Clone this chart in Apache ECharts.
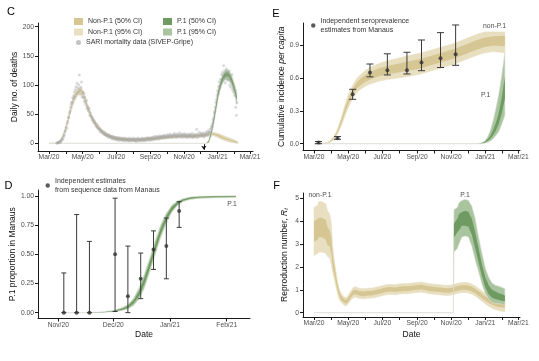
<!DOCTYPE html>
<html><head><meta charset="utf-8">
<script src="https://cdn.jsdelivr.net/npm/echarts@6/dist/echarts.min.js"></script>
<style>html,body{margin:0;padding:0;background:#fff}#c{width:539px;height:361px}</style>
</head><body><div id="c"></div>
<script>
// ---------- axis ticks / labels (days since 2020-03-01; panel D: days since 2020-11-01) ----------
const monthTickDays = [0,31,61,92,122,153,184,214,245,275,306,337,365];
const monthLabelDays = [0,61,122,184,245,306,365];
const monthLabelTexts = ['Mar/20','May/20','Jul/20','Sep/20','Nov/20','Jan/21','Mar/21'];
const dTickDays = [0,30,61,92];
const dTickTexts = ['Nov/20','Dec/20','Jan/21','Feb/21'];
const cYTicks = [0,50,100,150,200];
const eYTicks = [0,0.3,0.6,0.9];
const dYTicks = [0,0.25,0.5,0.75,1];
const fYTicks = [0,1,2,3,4,5];

// ---------- Panel C: daily deaths ----------
const sariStartDay = 14;
const sariDeaths = [
 0,1,1,2,1,3,2,4,3,6, 8,7,11,13,15,20,22,28,26,34, 38,45,44,52,55,62,67,71,70,78,
 76,82,88,80,92,97,85,103,95,88, 100,117,92,84,96,105,80,88,78,86, 72,79,70,66,74,60,63,58,55,60,
 48,52,47,45,41,44,38,40,35,37, 34,30,33,28,27,30,25,24,26,21, 23,19,22,18,20,17,15,19,16,14,
 16,13,12,15,11,14,10,13,12,9, 11,8,12,10,7,9,11,8,6,10, 7,9,5,8,10,6,8,7,5,9,
 6,8,4,7,9,5,7,6,8,4, 7,5,9,6,4,8,6,7,5,9, 5,7,4,8,6,3,7,9,5,6,
 8,4,6,7,5,9,6,8,4,7, 6,9,5,8,7,10,6,8,9,5, 9,7,10,6,8,11,9,7,12,8,
 10,8,12,9,11,7,13,10,9,12, 11,9,13,10,12,14,9,11,13,10, 12,15,10,13,11,14,16,12,10,13,
 14,11,15,13,17,12,10,14,16,11, 13,15,12,18,11,14,13,16,10,15, 12,14,17,11,13,15,12,10,14,16,
 13,11,15,12,14,17,10,13,12,16, 11,14,12,15,24,10,16,14,12,19, 13,15,17,12,16,14,18,11,15,13,
 16,19,14,17,21,15,18,20,24,19, 26,30,29,35,40,44,52,55,62,70, 75,82,90,86,98,105,95,110,102,118,
 108,122,115,133,112,125,104,118,128,110, 120,108,115,124,100,112,96,106,118,92, 100,88,95,82,90,62,48,70
];
const cArrowDay = 281;
const cNonDays = [0,10,15,20,25,30,35,40,45,50,55,58,62,66,70,75,80,85,90,95,100,110,120,130,140,150,160,170,180,190,200,210,220,230,240,250,260,270,280,290,298,305,310,315,320,330,340,343];
const cNonLo95 = [0,0,0.5,3,10,22,38,55,69,79,84,84,79,68.5,57,45.5,36,28,22,18,14,9.5,6.5,5,4,3.5,3.5,4,4.5,5.5,6.5,7.5,8.5,9.5,10,9.5,9.5,10,11,12,13,10.5,8,6,4,1.5,0,0];
const cNonLo50 = [0,0,0.8,3.6,11.2,23.8,40.4,58,72.6,82.6,87.6,87.6,82.6,71.8,60,48.2,38.4,30.4,24.4,19.8,15.8,11,8,6.5,5.5,5,5,5.5,6,7,8,9,10,11,11.5,11,11,11.5,12.5,13.8,14.8,12.6,10.4,8.4,6.4,4,1,0.6];
const cNonHi50 = [0,0,1.2,4.4,12.8,26.2,43.6,62,77.4,87.4,92.4,92.4,87.4,76.2,64,51.8,41.6,33.6,27.6,22.2,18.2,13,10,8.5,7.5,7,7,7.5,8,9,10,11,12,13,13.5,13,13,13.5,14.5,16.2,17.2,15.4,13.6,11.6,9.6,6,3,1.4];
const cNonHi95 = [0,0,1.5,5,14,28,46,65,81,91,96,96,91,79.5,67,54.5,44,36,30,24,20,14.5,11.5,10,9,8.5,8.5,9,9.5,10.5,11.5,12.5,13.5,14.5,15,14.5,14.5,15,16,18,19,17.5,16,14,12,8.5,4.5,2];
const cP1Days = [0,280,286,290,295,298,301,304,307,310,313,316,319,322,325,328,331,334,337,341];
const cP1Lo95 = [0,0,0,1,14,28,44,60,77,88,98,104,108,110,109,105,100,92,82,66];
const cP1Lo50 = [0,0,0,2,17.5,32,48,64.5,81.5,93,102.5,109,113,115,114.5,110.5,105.5,97.5,88,73];
const cP1Hi50 = [0,0,0,4,22.5,38,54,71.5,88.5,100,109.5,116,120,122,121.5,117.5,112.5,104.5,95,80];
const cP1Hi95 = [0,0,0,6,26,42,58,76,93,104,113,120,124,126,126,123,118,110,101,86];

// ---------- Panel E: cumulative incidence ----------
const eNonDays = [0,10,20,25,30,35,40,45,50,55,60,65,70,75,80,90,100,115,130,150,170,190,210,230,250,270,290,305,320,341];
const eNonLo95 = [0,0.001,0.003,0.006,0.017,0.036,0.07,0.12,0.18,0.25,0.315,0.37,0.42,0.455,0.485,0.52,0.545,0.57,0.585,0.60,0.615,0.635,0.665,0.695,0.725,0.765,0.805,0.83,0.84,0.83];
const eNonLo50 = [0,0.0015,0.004,0.008,0.021,0.044,0.081,0.137,0.202,0.278,0.345,0.403,0.453,0.491,0.521,0.559,0.586,0.614,0.632,0.65,0.667,0.687,0.717,0.747,0.777,0.817,0.857,0.882,0.895,0.89];
const eNonHi50 = [0,0.0025,0.006,0.012,0.029,0.056,0.099,0.163,0.238,0.322,0.395,0.457,0.507,0.549,0.579,0.621,0.654,0.686,0.708,0.73,0.753,0.773,0.803,0.833,0.863,0.903,0.943,0.968,0.98,0.985];
const eNonHi95 = [0,0.003,0.007,0.014,0.033,0.064,0.11,0.18,0.26,0.35,0.425,0.49,0.54,0.585,0.615,0.66,0.695,0.73,0.755,0.78,0.805,0.825,0.855,0.885,0.915,0.955,0.995,1.02,1.02,1.02];
const eP1Days = [0,290,295,300,305,310,315,320,325,330,335,341];
const eP1Lo95 = [0,0,0,0.002,0.005,0.012,0.025,0.045,0.075,0.11,0.17,0.26];
const eP1Lo50 = [0,0,0.001,0.004,0.01,0.025,0.045,0.08,0.12,0.18,0.27,0.41];
const eP1Hi50 = [0,0,0.002,0.007,0.017,0.04,0.07,0.125,0.19,0.28,0.41,0.61];
const eP1Hi95 = [0,0,0.003,0.01,0.025,0.06,0.12,0.21,0.32,0.45,0.61,0.83];
const seroDays = [8,42,69,100,131,166,192,226,253];
const seroMid = [0.01,0.05,0.45,0.65,0.67,0.67,0.74,0.78,0.815];
const seroLo = [0.0,0.04,0.405,0.61,0.627,0.636,0.666,0.695,0.715];
const seroHi = [0.02,0.065,0.496,0.727,0.82,0.834,0.946,1.013,1.083];

// ---------- Panel D: P.1 proportion (days since 2020-11-01) ----------
const dCurveDays = [2,15,20,25,30,35,38,41,44,47,50,53,56,59,62,65,68,72,77,85,97];
const dLo95 = [0,0,0.001,0.003,0.007,0.018,0.032,0.06,0.115,0.21,0.35,0.5,0.645,0.765,0.86,0.915,0.95,0.968,0.978,0.983,0.985];
const dLo50 = [0,0,0.0015,0.004,0.01,0.025,0.042,0.078,0.14,0.245,0.385,0.535,0.678,0.792,0.875,0.925,0.957,0.975,0.985,0.989,0.99];
const dHi50 = [0,0,0.0025,0.006,0.014,0.035,0.058,0.102,0.18,0.295,0.435,0.585,0.722,0.828,0.905,0.945,0.969,0.985,0.993,0.996,0.997];
const dHi95 = [0,0,0.004,0.008,0.018,0.045,0.07,0.12,0.21,0.33,0.47,0.62,0.755,0.85,0.92,0.955,0.975,0.99,0.997,0.999,1.0];
const seqDays = [3,10,17,31,38,45,52,59,66];
const seqMid = [0,0,0,0.5,0.14,0.29,0.54,0.57,0.87];
const seqLo = [0,0,0,0.01,0,0.12,0.37,0.29,0.73];
const seqHi = [0.34,0.84,0.61,0.98,0.57,0.51,0.70,0.81,0.95];

// ---------- Panel F: reproduction number ----------
const fNonDays = [0,7,8,14,21,24,28,31,33,36,38,41,44,47,50,54,58,62,66,70,74,80,88,96,104,112,120,128,136,144,152,160,168,176,184,192,200,208,216,224,232,240,248,256,264,272,280,288,296,304,312,320,328,336,341];
const fNonLo95 = [2.5,2.6,2.65,2.65,2.6,2.45,2.4,2.1,1.8,1.5,1.25,0.95,0.65,0.5,0.42,0.32,0.3,0.42,0.55,0.65,0.68,0.63,0.6,0.63,0.64,0.68,0.73,0.78,0.8,0.78,0.81,0.83,0.83,0.86,0.88,0.9,0.86,0.82,0.8,0.78,0.76,0.75,0.78,0.84,0.88,0.88,0.83,0.73,0.58,0.42,0.28,0.17,0.1,0.06,0.04];
const fNonLo50 = [3.1,3.2,3.3,3.3,3.2,2.95,2.9,2.55,2.05,1.7,1.45,1.08,0.8,0.6,0.52,0.42,0.4,0.52,0.66,0.78,0.8,0.75,0.72,0.75,0.76,0.8,0.85,0.9,0.92,0.9,0.93,0.95,0.95,0.98,1.0,1.02,0.98,0.94,0.92,0.9,0.88,0.87,0.9,0.96,1.0,1.0,0.95,0.85,0.7,0.55,0.42,0.32,0.26,0.23,0.22];
const fNonHi50 = [4.0,4.1,4.15,4.15,4.05,3.75,3.6,3.3,2.6,2.1,1.8,1.35,1.0,0.8,0.7,0.58,0.56,0.7,0.84,0.98,1.0,0.95,0.92,0.95,0.96,1.0,1.05,1.1,1.12,1.1,1.13,1.15,1.15,1.18,1.2,1.22,1.18,1.14,1.12,1.1,1.08,1.07,1.1,1.16,1.2,1.2,1.15,1.05,0.9,0.75,0.62,0.52,0.48,0.45,0.44];
const fNonHi95 = [4.6,4.7,4.85,4.85,4.75,4.45,4.3,3.9,3.0,2.35,2.0,1.5,1.15,0.92,0.8,0.68,0.66,0.8,0.96,1.1,1.13,1.07,1.04,1.07,1.08,1.12,1.17,1.22,1.24,1.22,1.25,1.27,1.27,1.3,1.32,1.34,1.3,1.26,1.24,1.22,1.2,1.19,1.22,1.28,1.32,1.32,1.27,1.17,1.02,0.88,0.76,0.67,0.63,0.62,0.62];
const fP1Days = [0,249,250,256,259,264,270,276,282,288,294,300,306,312,318,324,330,336,341];
const fP1Lo95 = [0,0,2.65,2.8,3.0,3.3,3.35,3.3,2.9,2.3,1.8,1.25,0.85,0.6,0.45,0.4,0.4,0.37,0.35];
const fP1Lo50 = [0,0,3.3,3.5,3.6,3.8,3.8,3.75,3.4,2.8,2.2,1.6,1.1,0.8,0.65,0.6,0.55,0.52,0.5];
const fP1Hi50 = [0,0,3.9,4.1,4.3,4.4,4.45,4.4,4.1,3.5,2.8,2.1,1.55,1.2,1.0,0.92,0.85,0.8,0.75];
const fP1Hi95 = [0,0,4.5,4.6,4.8,4.9,4.95,4.9,4.65,4.1,3.3,2.6,1.95,1.55,1.3,1.2,1.15,1.1,1.05];

// ---------- styling ----------
const FONT = '"Liberation Sans", Arial, Helvetica, sans-serif';
const TAN95 = '#e8dfc0', TAN50 = '#d6c693', GRN95 = '#a9c59f', GRN50 = '#6f9a62';
const ZERO_LINE = '#dcdcd4';
const AXIS_COL = '#1a1a1a', LABEL_COL = '#4d4d4d';

function band(name, gi, xs, lo, hi, color, z, strokeCol) {
  const rows = xs.map((x, i) => [x, lo[i], hi[i]]);
  return {
    type: 'custom', name, xAxisIndex: gi, yAxisIndex: gi, z: z, silent: true, clip: true,
    itemStyle: { color }, data: rows, encode: { x: 0, y: [1, 2] },
    renderItem(params, api) {
      if (params.dataIndex !== 0) return null;
      const up = rows.map(r => api.coord([r[0], r[2]]));
      const dn = rows.map(r => api.coord([r[0], r[1]])).reverse();
      return { type: 'polygon', shape: { points: up.concat(dn) },
        style: strokeCol ? { fill: color, stroke: strokeCol, lineWidth: 0.6 } : { fill: color } };
    }
  };
}
function errorBars(gi, xs, lo, hi, capPx) {
  return {
    type: 'custom', xAxisIndex: gi, yAxisIndex: gi, z: 4, silent: true,
    data: xs.map((x, i) => [x, lo[i], hi[i]]), encode: { x: 0, y: [1, 2] },
    renderItem(params, api) {
      const x = api.value(0);
      const p1 = api.coord([x, api.value(1)]), p2 = api.coord([x, api.value(2)]);
      const h = capPx / 2, st = { stroke: '#3a3a3a', lineWidth: 1 };
      return { type: 'group', children: [
        { type: 'line', shape: { x1: p1[0], y1: p1[1], x2: p2[0], y2: p2[1] }, style: st },
        { type: 'line', shape: { x1: p1[0]-h, y1: p1[1], x2: p1[0]+h, y2: p1[1] }, style: st },
        { type: 'line', shape: { x1: p2[0]-h, y1: p2[1], x2: p2[0]+h, y2: p2[1] }, style: st }
      ]};
    }
  };
}
function lookup(days, texts) {
  return v => { const i = days.findIndex(d => Math.abs(d - v) < 1e-6); return i >= 0 ? texts[i] : ''; };
}
const labelBase = { color: LABEL_COL, fontSize: 6.7, fontFamily: FONT };
function xAx(gi, min, max, ticks, lDays, lTexts, name, gap) {
  return {
    type: 'value', gridIndex: gi, min, max,
    name: name || '', nameLocation: 'middle', nameGap: gap || 12,
    nameTextStyle: { fontSize: 8.5, color: '#111', fontFamily: FONT },
    axisLine: { show: true, onZero: false, lineStyle: { color: AXIS_COL, width: 1 } },
    axisTick: { show: true, length: 3, customValues: ticks, lineStyle: { color: AXIS_COL } },
    axisLabel: Object.assign({ customValues: lDays, formatter: lookup(lDays, lTexts), margin: 3 }, labelBase),
    splitLine: { show: false }
  };
}
function yAx(gi, min, max, ticks, fmt, name, gap, rich) {
  const nts = { fontSize: 8.5, color: '#111', fontFamily: FONT };
  if (rich) nts.rich = rich;
  return {
    type: 'value', gridIndex: gi, min, max,
    name, nameLocation: 'middle', nameGap: gap, nameRotate: 90, nameTextStyle: nts,
    axisLine: { show: true, onZero: false, lineStyle: { color: AXIS_COL, width: 1 } },
    axisTick: { show: true, length: 3, customValues: ticks, lineStyle: { color: AXIS_COL } },
    axisLabel: Object.assign({ customValues: ticks, formatter: fmt, margin: 4 }, labelBase),
    splitLine: { show: false }
  };
}

const sariPoints = sariDeaths.map((v, i) => [sariStartDay + i, v]);
const legText = { fontSize: 7, color: '#333', fontFamily: FONT, lineHeight: 9 };
const txt = (x, y, s, size, color, align) => ({
  type: 'text', x, y, silent: true,
  style: { text: s, font: size + 'px ' + FONT, fill: color,
    textAlign: align || 'center', textVerticalAlign: 'middle', align: align || 'center', verticalAlign: 'middle' }
});
const richBase = { fontSize: 8.5, color: '#111', fontFamily: FONT };

const option = {
  animation: false,
  backgroundColor: '#fff',
  grid: [
    { left: 38, top: 23, width: 215, height: 128 },
    { left: 303, top: 23, width: 217, height: 127.5 },
    { left: 38, top: 190, width: 212, height: 128.5 },
    { left: 303, top: 193, width: 217, height: 124 }
  ],
  xAxis: [
    xAx(0, -20, 370.2, monthTickDays, monthLabelDays, monthLabelTexts),
    xAx(1, -19.7, 368, monthTickDays, monthLabelDays, monthLabelTexts),
    xAx(2, -11.1, 104.7, dTickDays, dTickDays, dTickTexts, 'Date', 12),
    xAx(3, -19.7, 368, monthTickDays, monthLabelDays, monthLabelTexts, 'Date', 13)
  ],
  yAxis: [
    yAx(0, -13.2, 206.3, cYTicks, v => String(v), 'Daily no. of deaths', 16),
    yAx(1, -0.062, 1.101, eYTicks, v => v.toFixed(1), '{n|Cumulative incidence }{i|per capita}', 13,
        { n: richBase, i: Object.assign({ fontStyle: 'italic' }, richBase) }),
    yAx(2, -0.05, 1.05, dYTicks, v => v.toFixed(2), 'P.1 proportion in Manaus', 16),
    yAx(3, -0.19, 5.23, fYTicks, v => String(v), '{n|Reproduction number, }{i|R}{s|t}', 14,
        { n: richBase, i: Object.assign({ fontStyle: 'italic' }, richBase),
          s: { fontSize: 6, color: '#111', fontFamily: FONT, fontStyle: 'italic', verticalAlign: 'bottom', padding: [3, 0, 0, 0] } })
  ],
  legend: [
    { left: 74, top: 17, padding: 0, orient: 'vertical', itemWidth: 9, itemHeight: 7, itemGap: 1.5, icon: 'rect',
      selectedMode: false, textStyle: legText,
      data: [{ name: 'Non-P.1 (50% CI)', itemStyle: { color: TAN50 } }, { name: 'Non-P.1 (95% CI)', itemStyle: { color: TAN95 } }] },
    { left: 163, top: 17, padding: 0, orient: 'vertical', itemWidth: 9, itemHeight: 7, itemGap: 1.5, icon: 'rect',
      selectedMode: false, textStyle: legText,
      data: [{ name: 'P.1 (50% CI)', itemStyle: { color: GRN50 } }, { name: 'P.1 (95% CI)', itemStyle: { color: GRN95 } }] },
    { left: 76, top: 38, padding: 0, itemWidth: 5, itemHeight: 5, icon: 'circle', selectedMode: false, textStyle: legText,
      data: [{ name: 'SARI mortality data (SIVEP-Gripe)', itemStyle: { color: '#b4b4b4' } }] },
    { left: 311, top: 17, padding: 0, itemWidth: 4.5, itemHeight: 4.5, icon: 'circle', selectedMode: false,
      textStyle: Object.assign({}, legText, { lineHeight: 8.5 }),
      data: [{ name: 'Independent seroprevalence\nestimates from Manaus', itemStyle: { color: '#333' } }] },
    { left: 45.5, top: 177, padding: 0, itemWidth: 4.5, itemHeight: 4.5, icon: 'circle', selectedMode: false,
      textStyle: Object.assign({}, legText, { lineHeight: 8.5 }),
      data: [{ name: 'Independent estimates\nfrom sequence data from Manaus', itemStyle: { color: '#333' } }] }
  ],
  graphic: [
    txt(11, 12, 'C', 11, '#000'), txt(276, 14, 'E', 11, '#000'),
    txt(8.5, 185.5, 'D', 11, '#000'), txt(276.5, 185.5, 'F', 11, '#000'),
    txt(506, 26.5, 'non-P.1', 6.8, LABEL_COL, 'right'), txt(485.7, 95.3, 'P.1', 6.8, LABEL_COL),
    txt(320, 195.5, 'non-P.1', 6.8, LABEL_COL), txt(465, 195, 'P.1', 6.8, LABEL_COL),
    txt(232, 203.7, 'P.1', 6.8, LABEL_COL)
  ],
  series: [
    // C
    band('Non-P.1 (95% CI)', 0, cNonDays, cNonLo95, cNonHi95, TAN95, 1, ZERO_LINE),
    band('Non-P.1 (50% CI)', 0, cNonDays, cNonLo50, cNonHi50, TAN50, 1),
    band('P.1 (95% CI)', 0, cP1Days, cP1Lo95, cP1Hi95, GRN95, 2, ZERO_LINE),
    band('P.1 (50% CI)', 0, cP1Days, cP1Lo50, cP1Hi50, GRN50, 2),
    { type: 'scatter', name: 'SARI mortality data (SIVEP-Gripe)', xAxisIndex: 0, yAxisIndex: 0, z: 3,
      symbolSize: 3, itemStyle: { color: 'rgba(165,165,165,0.5)' }, data: sariPoints, silent: true,
      markLine: { silent: true, symbol: ['none', 'arrow'], symbolSize: 4, label: { show: false },
        lineStyle: { color: '#111', width: 1, type: 'solid' },
        data: [[{ coord: [cArrowDay, -1.5] }, { coord: [cArrowDay, -11] }]] } },
    // E
    band('E non 95', 1, eNonDays, eNonLo95, eNonHi95, TAN95, 1, TAN95),
    band('E non 50', 1, eNonDays, eNonLo50, eNonHi50, TAN50, 1),
    band('E p1 95', 1, eP1Days, eP1Lo95, eP1Hi95, GRN95, 2, ZERO_LINE),
    band('E p1 50', 1, eP1Days, eP1Lo50, eP1Hi50, GRN50, 2),
    errorBars(1, seroDays, seroLo, seroHi, 7),
    { type: 'scatter', name: 'Independent seroprevalence\nestimates from Manaus', xAxisIndex: 1, yAxisIndex: 1, z: 5,
      symbolSize: 4, itemStyle: { color: '#333' }, silent: true, data: seroDays.map((d, i) => [d, seroMid[i]]) },
    // D
    band('D p1 95', 2, dCurveDays, dLo95, dHi95, GRN95, 1, ZERO_LINE),
    band('D p1 50', 2, dCurveDays, dLo50, dHi50, GRN50, 2),
    errorBars(2, seqDays, seqLo, seqHi, 5),
    { type: 'scatter', name: 'Independent estimates\nfrom sequence data from Manaus', xAxisIndex: 2, yAxisIndex: 2, z: 5,
      symbolSize: 4, itemStyle: { color: '#333' }, silent: true, data: seqDays.map((d, i) => [d, seqMid[i]]) },
    // F
    band('F non 95', 3, fNonDays, fNonLo95, fNonHi95, TAN95, 1, TAN95),
    band('F non 50', 3, fNonDays, fNonLo50, fNonHi50, TAN50, 1),
    band('F p1 95', 3, fP1Days, fP1Lo95, fP1Hi95, GRN95, 2, ZERO_LINE),
    band('F p1 50', 3, fP1Days, fP1Lo50, fP1Hi50, GRN50, 2)
  ]
};
const chart = echarts.init(document.getElementById('c'), null, { renderer: 'canvas' });
chart.setOption(option);
</script>
</body></html>
